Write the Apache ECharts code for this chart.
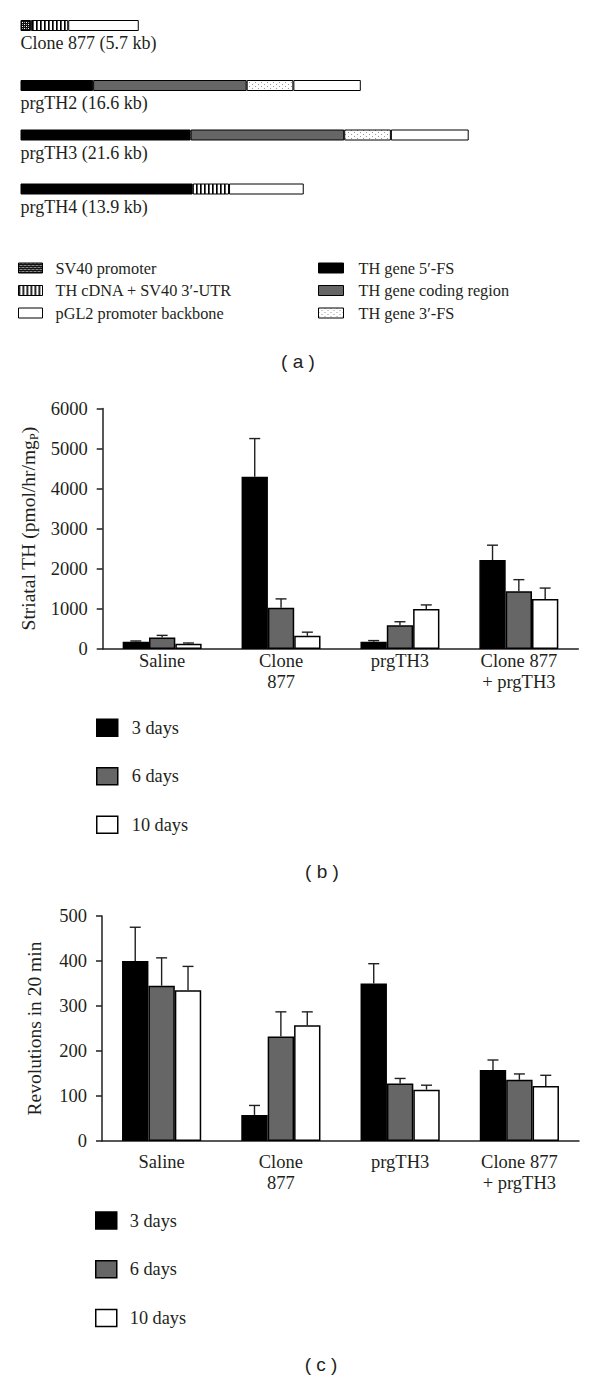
<!DOCTYPE html>
<html><head><meta charset="utf-8">
<script src="https://cdn.jsdelivr.net/npm/echarts@6/dist/echarts.min.js"></script>
<style>html,body{margin:0;padding:0;background:#fff}#chart{width:600px;height:1379px}</style>
</head><body><div id="chart"></div>
<script>
// ---------------- DATA ----------------
// Panel (a): construct maps (segment lengths in kb)
const constructNames = ['Clone 877 (5.7 kb)', 'prgTH2 (16.6 kb)', 'prgTH3 (21.6 kb)', 'prgTH4 (13.9 kb)'];
const segmentTypesLeft = ['SV40 promoter', 'TH cDNA + SV40 3′-UTR', 'pGL2 promoter backbone'];
const segmentTypesRight = ['TH gene 5′-FS', 'TH gene coding region', 'TH gene 3′-FS'];
const clone877Types = ['SV40 promoter', 'TH cDNA + SV40 3′-UTR', 'pGL2 promoter backbone'];
const clone877Kb = [0.5, 1.8, 3.4];
const prgTH2Types = ['TH gene 5′-FS', 'TH gene coding region', 'TH gene 3′-FS', 'pGL2 promoter backbone'];
const prgTH2Kb = [3.5, 7.4, 2.25, 3.25];
const prgTH3Types = ['TH gene 5′-FS', 'TH gene coding region', 'TH gene 3′-FS', 'pGL2 promoter backbone'];
const prgTH3Kb = [8.2, 7.4, 2.25, 3.75];
const prgTH4Types = ['TH gene 5′-FS', 'TH cDNA + SV40 3′-UTR', 'pGL2 promoter backbone'];
const prgTH4Kb = [8.3, 1.75, 3.6];

// Panels (b) and (c)
const groups = ['Saline', 'Clone\n877', 'prgTH3', 'Clone 877\n+ prgTH3'];
const durations = ['3 days', '6 days', '10 days'];
const th3days = [180, 4300, 180, 2220];
const th3daysErr = [20, 950, 30, 370];
const th6days = [290, 1030, 590, 1440];
const th6daysErr = [50, 220, 90, 290];
const th10days = [130, 330, 1000, 1250];
const th10daysErr = [20, 90, 100, 270];
const rev3days = [400, 58, 350, 158];
const rev3daysErr = [75, 21, 44, 22];
const rev6days = [345, 232, 128, 136];
const rev6daysErr = [62, 55, 11, 13];
const rev10days = [335, 257, 114, 122];
const rev10daysErr = [53, 30, 10, 24];

// ---------------- STYLE / LAYOUT ----------------
const SERIF = '"Liberation Serif", "Times New Roman", serif';
const INK = '#231f20';
const constructTop = [20, 80, 129.5, 183.5];
const constructBarH = 11;
const kbMax = 27;

function makePattern(w, h, draw) {
  const c = document.createElement('canvas');
  c.width = w; c.height = h;
  const ctx = c.getContext('2d');
  ctx.fillStyle = '#fff'; ctx.fillRect(0, 0, w, h);
  draw(ctx);
  return { image: c.toDataURL(), imageWidth: w, imageHeight: h, repeat: 'repeat' };
}
const checker = makePattern(4, 4, ctx => {
  ctx.fillStyle = '#111'; ctx.fillRect(0, 0, 4, 4);
  ctx.fillStyle = '#fff'; ctx.fillRect(0, 0, 1, 1); ctx.fillRect(2, 2, 1, 1);
  ctx.fillStyle = '#999'; ctx.fillRect(2, 0, 1, 1); ctx.fillRect(0, 2, 1, 1);
});
const stripes = makePattern(4, 2, ctx => { ctx.fillStyle = '#000'; ctx.fillRect(0, 0, 1, 2); ctx.fillStyle = '#555'; ctx.fillRect(1, 0, 1, 2); });
const dots = makePattern(6, 4, ctx => { ctx.fillStyle = '#999'; ctx.fillRect(0, 0, 1, 1); ctx.fillRect(3, 2, 1, 1); });

const segColor = {
  'SV40 promoter': checker,
  'TH cDNA + SV40 3′-UTR': stripes,
  'pGL2 promoter backbone': '#ffffff',
  'TH gene 5′-FS': '#000000',
  'TH gene coding region': '#666666',
  'TH gene 3′-FS': dots
};
const durColor = ['#000000', '#666666', '#ffffff'];

const constructs = [
  [clone877Types, clone877Kb], [prgTH2Types, prgTH2Kb], [prgTH3Types, prgTH3Kb], [prgTH4Types, prgTH4Kb]
];

const grid = [], xAxis = [], yAxis = [], series = [];
constructs.forEach((c, i) => {
  grid.push({ left: 20.5, width: 560.25, top: constructTop[i], height: constructBarH });
  xAxis.push({ type: 'value', gridIndex: i, min: 0, max: kbMax, show: false });
  yAxis.push({
    type: 'category', gridIndex: i, data: [constructNames[i]],
    axisLine: { show: false }, axisTick: { show: false }, axisLabel: { show: false }, splitLine: { show: false },
    name: constructNames[i], nameLocation: 'start', nameGap: 12,
    nameTextStyle: { align: 'left', verticalAlign: 'middle', fontFamily: SERIF, fontSize: 18, color: INK }
  });
  c[0].forEach((t, j) => {
    series.push({
      type: 'bar', name: t, xAxisIndex: i, yAxisIndex: i, stack: 'construct' + i,
      barWidth: constructBarH, data: [c[1][j]], silent: true,
      itemStyle: { color: segColor[t], borderColor: '#000', borderWidth: 1 }
    });
  });
});

const CAT_GAP = 0.336;
function errorRender(params, api) {
  const cat = api.value(0), mean = api.value(1), err = api.value(2), k = api.value(3);
  const p0 = api.coord([cat, mean]);
  const p1 = api.coord([cat, mean + err]);
  const band = api.size([1, 0])[0];
  const groupW = band * (1 - CAT_GAP);
  const bw = groupW / 3;
  const x = p0[0] - groupW / 2 + bw * (k + 0.5);
  const style = { stroke: INK, lineWidth: 1.4 };
  return {
    type: 'group', children: [
      { type: 'line', shape: { x1: x, y1: p0[1], x2: x, y2: p1[1] }, style },
      { type: 'line', shape: { x1: x - 5.5, y1: p1[1], x2: x + 5.5, y2: p1[1] }, style }
    ]
  };
}

function addBarPanel(gi, g, ymax, yint, yname, values, errs, labelMargin, nameGap) {
  grid.push(g);
  xAxis.push({
    type: 'category', gridIndex: gi, data: groups,
    axisLine: { lineStyle: { color: INK, width: 1.5 } },
    axisTick: { length: 6, lineStyle: { color: INK, width: 1.5 } },
    axisLabel: { margin: labelMargin, fontFamily: SERIF, fontSize: 18.5, lineHeight: 21, color: INK }
  });
  yAxis.push({
    type: 'value', gridIndex: gi, min: 0, max: ymax, interval: yint,
    axisLine: { show: true, lineStyle: { color: INK, width: 1.5 } },
    axisTick: { show: true, length: 6, lineStyle: { color: INK, width: 1.5 } },
    splitLine: { show: false },
    axisLabel: { margin: 15, fontFamily: SERIF, fontSize: 18.5, color: INK, formatter: v => String(v) },
    name: yname, nameLocation: 'middle', nameGap: nameGap,
    nameTextStyle: {
      fontFamily: SERIF, fontSize: 19.5, color: INK,
      rich: { s: { fontFamily: SERIF, fontSize: 12, color: INK, padding: [10, 0, 0, 0] } }
    }
  });
  const errData = [];
  values.forEach((vals, k) => {
    series.push({
      type: 'bar', name: durations[k], xAxisIndex: gi, yAxisIndex: gi, data: vals,
      barGap: '0%', barCategoryGap: (CAT_GAP * 100) + '%', silent: true,
      itemStyle: { color: durColor[k], borderColor: '#000', borderWidth: 1.5 }
    });
    vals.forEach((v, i) => errData.push([i, v, errs[k][i], k]));
  });
  series.push({
    type: 'custom', name: 'error' + gi, xAxisIndex: gi, yAxisIndex: gi, z: 5, silent: true,
    encode: { x: 0, y: 1 }, data: errData, renderItem: errorRender
  });
}

addBarPanel(4, { left: 102.7, right: 21.7, top: 408.5, bottom: 730 }, 6000, 1000,
  'Striatal TH (pmol/hr/mg{s|P})', [th3days, th6days, th10days], [th3daysErr, th6daysErr, th10daysErr], 1, 58);
addBarPanel(5, { left: 102, right: 21, top: 916, bottom: 238 }, 500, 100,
  'Revolutions in 20 min', [rev3days, rev6days, rev10days], [rev3daysErr, rev6daysErr, rev10daysErr], 10, 58);

const legendText = { fontFamily: SERIF, fontSize: 16.3, color: INK, lineHeight: 20 };
const legend = [
  { left: 18, top: 258, orient: 'vertical', padding: 0, itemGap: 2.5, itemWidth: 24, itemHeight: 10, icon: 'rect',
    data: segmentTypesLeft, selectedMode: false, itemStyle: { borderColor: '#000', borderWidth: 1 },
    textStyle: Object.assign({ padding: [0, 0, 0, 8] }, legendText) },
  { left: 318, top: 258, orient: 'vertical', padding: 0, itemGap: 2.5, itemWidth: 25, itemHeight: 10, icon: 'rect',
    data: segmentTypesRight, selectedMode: false, itemStyle: { borderColor: '#000', borderWidth: 1 },
    textStyle: Object.assign({ padding: [0, 0, 0, 10] }, legendText) },
  { left: 96, top: 717.7, orient: 'vertical', padding: 0, itemGap: 28.5, itemWidth: 21, itemHeight: 17, icon: 'rect',
    data: durations, selectedMode: false, itemStyle: { borderColor: '#000', borderWidth: 1.5 },
    textStyle: { fontFamily: SERIF, fontSize: 18.3, color: INK, lineHeight: 20, padding: [0, 0, 0, 9] } },
  { left: 95, top: 1210.5, orient: 'vertical', padding: 0, itemGap: 28.75, itemWidth: 21, itemHeight: 17, icon: 'rect',
    data: durations, selectedMode: false, itemStyle: { borderColor: '#000', borderWidth: 1.5 },
    textStyle: { fontFamily: SERIF, fontSize: 18.3, color: INK, lineHeight: 20, padding: [0, 0, 0, 8] } }
];

const panelLabelFont = { fontFamily: '"Liberation Sans", Arial, sans-serif', fontSize: 19, fill: INK, align: 'center', verticalAlign: 'middle' };
const graphic = [
  { type: 'text', x: 298, y: 361, style: Object.assign({ text: '( a )' }, panelLabelFont) },
  { type: 'text', x: 322, y: 871, style: Object.assign({ text: '( b )' }, panelLabelFont) },
  { type: 'text', x: 321, y: 1364, style: Object.assign({ text: '( c )' }, panelLabelFont) }
];

const chart = echarts.init(document.getElementById('chart'), null, { renderer: 'svg' });
chart.setOption({
  animation: false,
  backgroundColor: '#ffffff',
  grid, xAxis, yAxis, series, legend, graphic
});
</script></body></html>
